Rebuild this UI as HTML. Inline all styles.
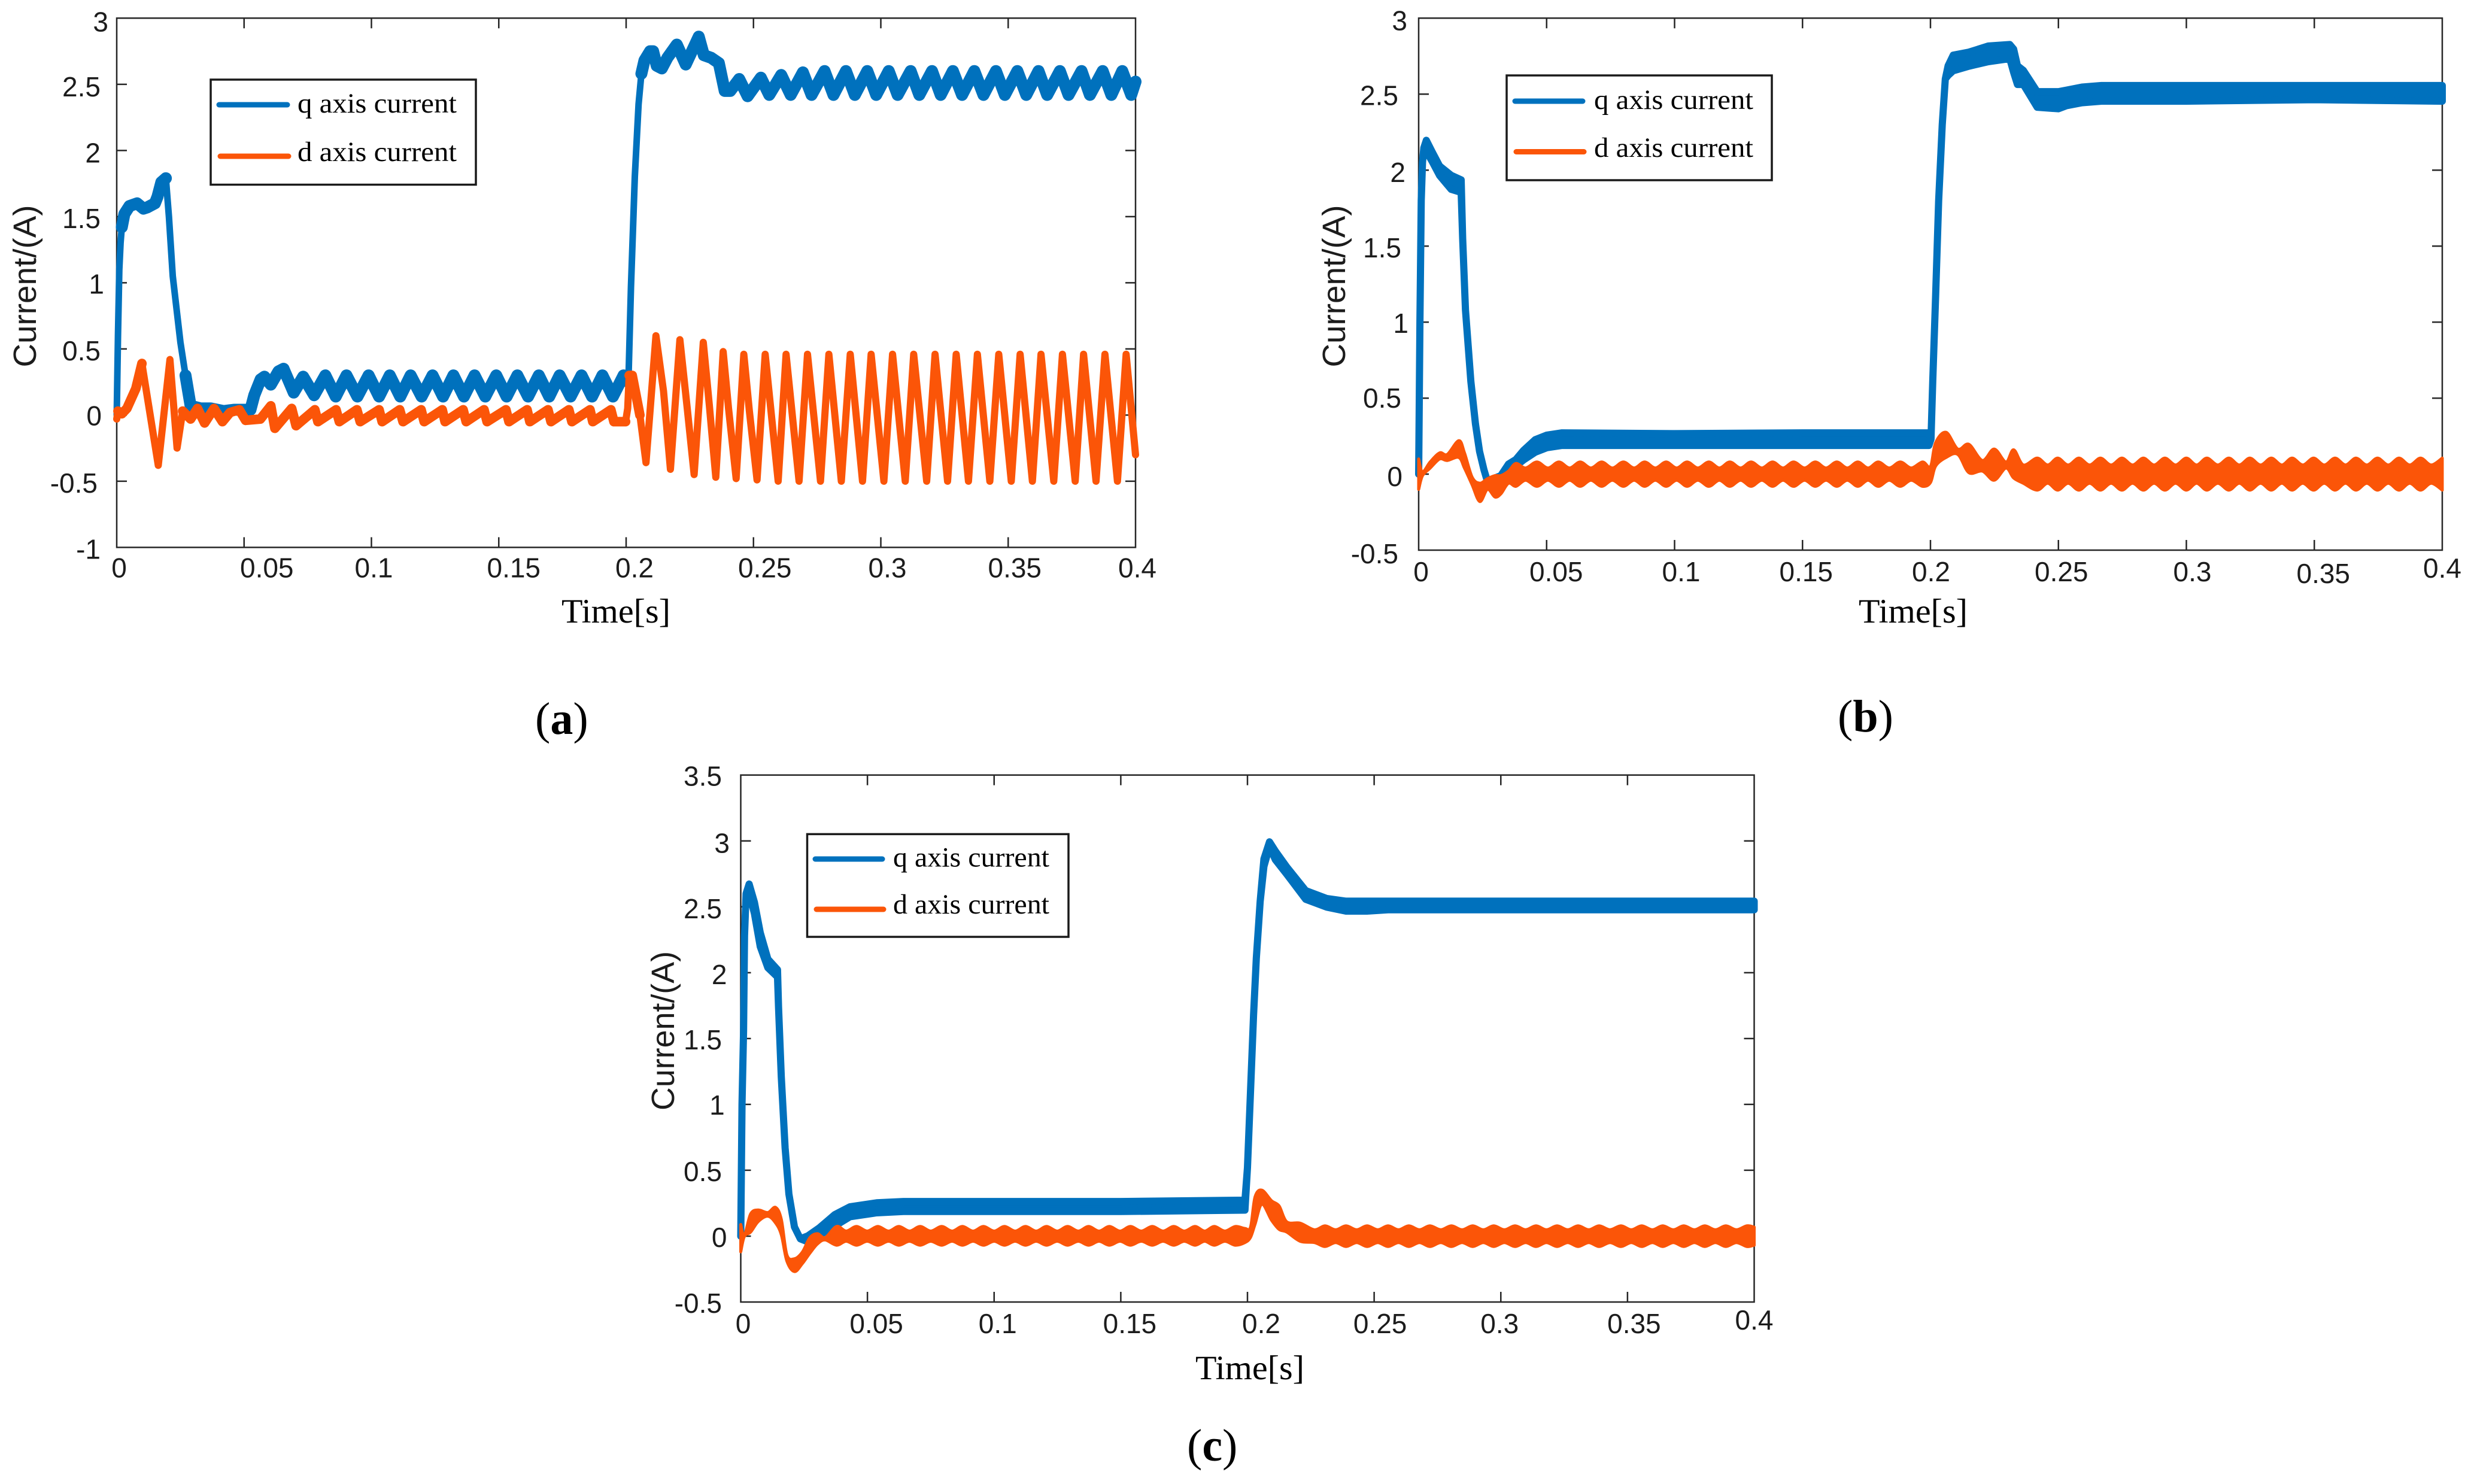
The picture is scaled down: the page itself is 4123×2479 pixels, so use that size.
<!DOCTYPE html>
<html>
<head>
<meta charset="utf-8">
<title>q and d axis current responses</title>
<style>
html,body{margin:0;padding:0;background:#fff;}
svg{display:block;}
text{fill:#1c1c1c;}
.tick{font-family:"Liberation Sans",sans-serif;font-size:46px;}
.ytitle{font-family:"Liberation Sans",sans-serif;font-size:54px;}
.xtitle{font-family:"Liberation Serif",serif;font-size:57px;fill:#000;}
.legend-text{font-family:"Liberation Serif",serif;font-size:47px;fill:#000;}
.caption{font-family:"Liberation Serif",serif;font-size:76px;fill:#000;}
</style>
</head>
<body>
<svg id="figure" xmlns="http://www.w3.org/2000/svg" width="4123" height="2479" viewBox="0 0 4123 2479">
<rect x="0" y="0" width="4123" height="2479" fill="#ffffff"/>
<text class="caption" x="894" y="1226">(<tspan font-weight="bold">a</tspan>)</text>
<text class="caption" x="3070" y="1222">(<tspan font-weight="bold">b</tspan>)</text>
<text class="caption" x="1983" y="2440">(<tspan font-weight="bold">c</tspan>)</text>
</svg>
<script>
/* Shared axis ticks */
const xTicks = [0,0.05,0.1,0.15,0.2,0.25,0.3,0.35,0.4];
const xTickLabels = ['0','0.05','0.1','0.15','0.2','0.25','0.3','0.35','0.4'];
const seriesNames = ['q axis current','d axis current'];

/* Panel (a) */
const aYTicks = [-1,-0.5,0,0.5,1,1.5,2,2.5,3];
const aYTickLabels = ['-1','-0.5','0','0.5','1','1.5','2','2.5','3'];
const aQTime = [0,.0005,.001,.0015,.002,.003,.005,.008,.0105,.012,.015,.016,.0175,.0193,.0205,.022,.0235,.025,.027,.029,.033,.037,.042,.046,.0495,.0525,.054,.0565,.058,.0605,.0635,.0655,
 .0695,.0732,.0775,.0819,.086,.0902,.0945,.0989,.103,.1072,.1113,.1154,.1197,.124,.1281,.1322,.1363,.1405,.1447,.149,.1531,.1573,.1615,.1657,.1698,.1739,.1782,.1825,.1866,.1907,.1948,.199,
 .2009,.2019,.2034,.2049,.206,.2072,.2094,.2106,.212,.214,.2162,.2199,.2234,.2285,.2305,.2334,.2364,.2387,.2409,.2444,.2477,.2529,.2562,.2609,.2646,.2694,.2728,
 .2779,.2814,.2863,.2898,.2947,.2982,.3031,.3066,.3117,.3151,.3201,.3235,.3283,.3319,.3367,.3403,.3452,.3487,.3536,.3571,.3619,.3653,.3703,.3737,.3788,.3821,.3871,.3905,.3948,.3983,.4];
const aQValue = [0,.6,1.1,1.3,1.42,1.52,1.58,1.6,1.56,1.57,1.6,1.65,1.76,1.79,1.5,1.05,.8,.55,.3,.07,.05,.05,.03,.04,.04,.04,.15,.27,.29,.23,.33,.35,
 .17,.29,.15,.30,.14,.30,.14,.30,.14,.30,.14,.30,.14,.30,.14,.30,.14,.30,.14,.30,.14,.30,.14,.30,.14,.30,.14,.30,.14,.30,.14,.30,
 .25,.97,1.8,2.35,2.58,2.68,2.75,2.75,2.64,2.62,2.7,2.8,2.65,2.86,2.72,2.70,2.66,2.45,2.45,2.54,2.41,2.55,2.42,2.57,2.42,2.59,2.42,
 2.6,2.42,2.6,2.42,2.6,2.42,2.6,2.42,2.6,2.42,2.6,2.42,2.6,2.42,2.6,2.42,2.6,2.42,2.6,2.42,2.6,2.42,2.6,2.42,2.6,2.42,2.6,2.42,2.6,2.42,2.52];
const aDTime = [0,.0005,.002,.004,.0075,.0099,.0163,.0209,.0237,.0259,.029,.0317,.0345,.0382,.0415,.0445,.0481,.0506,.0564,.0605,.0621,.0687,.0704,
 .0778,.079,.0861,.0874,.0943,.0956,.103,.1042,.1111,.1124,.1195,.1207,.1278,.1289,.136,.1372,.1442,.1454,.1528,.154,.1611,.1622,.1693,.1705,.1775,.1787,.1858,.1869,.194,.1952,
 .1998,.2006,.2012,.2024,.2054,.2078,.2117,.2147,.2174,.2211,.224,.2267,.2303,.2327,.2352,.2381,.2402,.2432,.2462,.2484,.2514,.2546,
 .2597,.2628,.2679,.2712,.2763,.2796,.2845,.288,.2928,.2962,.3012,.3046,.3096,.3129,.318,.3213,.3262,.3296,.3344,.3379,.3428,.3463,.3512,.3547,.3595,.3629,.3679,.3713,.3763,.3796,.3845,.388,.3929,.3963,.4];
const aDValue = [-.03,.03,.01,.05,.2,.39,-.38,.42,-.25,.03,-.03,.05,-.06,.05,-.05,.02,.04,-.04,-.03,.07,-.1,.05,-.08,
 .04,-.05,.04,-.05,.04,-.05,.04,-.05,.04,-.05,.04,-.05,.04,-.05,.04,-.05,.04,-.05,.04,-.05,.04,-.05,.04,-.05,.04,-.05,.04,-.05,.04,-.05,
 -.05,.05,.30,.30,0,-.36,.6,.18,-.41,.57,.05,-.45,.55,.07,-.47,.48,.05,-.48,.46,.03,-.49,.46,
 -.5,.46,-.5,.46,-.5,.46,-.5,.46,-.5,.46,
 -.5,.46,-.5,.46,-.5,.46,-.5,.46,-.5,.46,
 -.5,.46,-.5,.46,-.5,.46,-.5,.46,-.5,.46,
 -.5,.46,-.5,.46,
 -.3];

/* Panel (b): noisy traces are stored as upper and lower envelopes */
const bYTicks = [-0.5,0,0.5,1,1.5,2,2.5,3];
const bYTickLabels = ['-0.5','0','0.5','1','1.5','2','2.5','3'];
const bQTime = [0,.0005,.001,.0015,.002,.003,.0052,.0082,.0127,.0166,.0172,.0183,.0204,.0222,.0238,.0255,.0269,.0291,.0321,.0351,.038,.041,.0455,.05,.056,.1,.15,.1994,.2002,.2009,.202,.2032,.2046,.2058,.2069,.2089,.215,.2226,.231,.2325,.234,.2363,.2417,.25,.2531,.2592,.2668,.3,.35,.4];
const bQUpper = [0,1,1.8,2.05,2.17,2.22,2.146,2.05,1.99,1.96,1.55,1.08,.61,.33,.15,.03,-.05,-.03,-.01,.09,.12,.18,.25,.28,.295,.29,.295,.295,.23,.61,1.17,1.8,2.3,2.6,2.71,2.78,2.8,2.84,2.85,2.82,2.71,2.68,2.54,2.54,2.55,2.57,2.58,2.58,2.58,2.58];
const bQLower = [0,1,1.8,2.05,2.12,2.1,2.036,1.94,1.85,1.83,1.55,1.08,.61,.33,.15,.03,-.05,-.03,-.01,.01,.03,.07,.12,.15,.165,.165,.165,.165,.23,.61,1.17,1.8,2.3,2.6,2.6,2.63,2.66,2.69,2.71,2.62,2.54,2.54,2.39,2.38,2.4,2.42,2.43,2.43,2.44,2.43];
const bDTime = [0,.0015,.0045,.0082,.0112,.0157,.0179,.0209,.0239,.0269,.0298,.0321,.0351,.038,.0418,
 .0462,.0505,.0548,.059,.0631,.0673,.0715,.0757,.08,.0842,.0883,.0925,.0967,.1008,.1049,.1091,.1134,.1175,.1216,.1258,.1299,.1341,.1383,.1424,.1465,.1508,.155,.1592,.1634,.1675,.1716,.1756,.1796,.1839,.1882,.1925,.1969,
 .2,.202,.2061,.2107,.215,.2203,.2249,.2295,.2325,.2363,.2417,.2458,
 .2497,.2538,.258,.2622,.2664,.2706,.2748,.279,.2832,.2874,.2916,.2958,.3,.304,.308,.3123,.3166,.3207,.3248,.329,.3332,.3373,.3413,.3455,.3497,.3539,.3581,.3622,.3663,.3705,.3747,.3789,.3831,.3873,.3915,.3957,.4];
const bDUpper = [.11,.025,.09,.15,.14,.23,.15,-.01,-.05,-.02,0,0,.03,.08,.05,
 .09,.05,.09,.05,.09,.05,.09,.05,.09,.05,.09,.05,
 .09,.05,.09,.05,.09,.05,.09,.05,.09,.05,.09,.05,
 .09,.05,.09,.05,.09,.05,.09,.05,.09,.05,.09,.05,
 .09,
 .06,.216,.285,.175,.206,.1,.175,.09,.17,.07,.115,.07,
 .115,.07,.115,.07,.115,.07,.115,.07,.115,.07,.115,.07,
 .115,.07,.115,.07,.115,.07,.115,.07,.115,.07,.115,.07,
 .115,.07,.115,.07,.115,.07,.115,.07,.115,.07,.115,.07,
 .115];
const bDLower = [-.11,-.02,.03,.09,.08,.1,.03,-.08,-.19,-.11,-.16,-.14,-.07,-.09,-.05,
 -.09,-.05,-.09,-.05,-.09,-.05,-.09,-.05,-.09,-.05,-.09,-.05,
 -.09,-.05,-.09,-.05,-.09,-.05,-.09,-.05,-.09,-.05,-.09,-.05,
 -.09,-.05,-.09,-.05,-.09,-.05,-.09,-.05,-.09,-.05,-.09,-.05,
 -.09,
 -.065,.043,.1,.12,0,.01,-.05,.03,-.035,-.07,-.115,-.07,
 -.115,-.07,-.115,-.07,-.115,-.07,-.115,-.07,-.115,-.07,-.115,-.07,
 -.115,-.07,-.115,-.07,-.115,-.07,-.115,-.07,-.115,-.07,-.115,-.07,
 -.115,-.07,-.115,-.07,-.115,-.07,-.115,-.07,-.115,-.07,-.115,-.07,
 -.115];

/* Panel (c) */
const cYTicks = [-0.5,0,0.5,1,1.5,2,2.5,3,3.5];
const cYTickLabels = ['-0.5','0','0.5','1','1.5','2','2.5','3','3.5'];
const cQTime = [0,.0005,.0011,.0015,.0021,.0033,.0054,.0077,.0107,.0145,.0149,.016,.0175,.019,.0212,.0235,.0265,.031,.0371,.0431,.0536,.0642,.1,.15,.199,.2,.2012,.2024,.2035,.205,.2065,.2087,.211,.2155,.223,.2313,.2389,.2472,.2555,.2705,.3,.35,.4];
const cQUpper = [0,1,1.56,2.28,2.6,2.7,2.56,2.33,2.13,2.05,1.74,1.21,.67,.32,.07,-.02,.03,.09,.19,.25,.28,.29,.29,.29,.3,.52,1.1,1.68,2.11,2.54,2.89,3.02,2.95,2.83,2.65,2.59,2.57,2.57,2.57,2.57,2.57,2.57,2.57];
const cQLower = [0,1,1.56,2.28,2.6,2.58,2.42,2.17,2.01,1.94,1.74,1.21,.67,.32,.07,-.02,-.07,-.02,.05,.12,.15,.16,.16,.16,.17,.52,1.1,1.68,2.11,2.54,2.78,2.93,2.83,2.72,2.53,2.47,2.44,2.44,2.45,2.45,2.45,2.45,2.45];
const cDTime = [0,.0014,.0039,.0069,.0107,.0137,.016,.0182,.0212,.0243,.0273,.0303,.0333,.0378,.0416,
 .0457,.0499,.0541,.0583,.0624,.0666,.0708,.075,.0793,.0834,.0875,.0917,.0958,.1,.1041,.1083,.1124,.1166,.1207,.1249,.129,.1332,.1373,.1414,.1455,.1497,.1538,.1581,.1624,.1667,.1709,.1751,.1793,.1831,.1869,.1911,.1952,
 .199,.2012,.203,.2057,.2095,.2125,.2155,.2208,.2264,
 .2306,.2348,.2389,.2431,.2472,.2514,.2555,.2596,.2637,.2679,.272,.2763,.2805,.2847,.2889,.2931,.2972,.3014,.3056,.3098,.3139,.318,.3222,.3264,.3305,.3347,.3388,.3431,.3474,.3515,.3556,.3598,.3639,.3681,.3722,.3764,.3805,.3847,.3888,.393,.3971,.4];
const cDUpper = [.1,.015,.18,.21,.19,.23,.14,-.13,-.16,-.11,0,.03,0,.085,.05,
 .085,.05,.085,.05,.085,.05,.085,.05,.085,.05,.085,.05,
 .085,.05,.085,.05,.085,.05,.085,.05,.085,.05,.085,.05,
 .085,.05,.085,.05,.085,.05,.085,.05,.085,.05,.085,.05,
 .085,
 .07,.08,.31,.36,.28,.24,.12,.11,.06,
 .09,.06,.09,.06,.09,.06,.09,.06,.09,.06,.09,.06,.09,.06,
 .09,.06,.09,.06,.09,.06,.09,.06,.09,.06,.09,.06,.09,.06,
 .09,.06,.09,.06,.09,.06,.09,.06,.09,.06,.09,.06,
 .09,.08];
const cDLower = [-.13,-.015,.02,.1,.14,.09,0,-.2,-.28,-.22,-.14,-.07,-.04,-.08,-.05,
 -.08,-.05,-.08,-.05,-.08,-.05,-.08,-.05,-.08,-.05,-.08,-.05,
 -.08,-.05,-.08,-.05,-.08,-.05,-.08,-.05,-.08,-.05,-.08,-.05,
 -.08,-.05,-.08,-.05,-.08,-.05,-.08,-.05,-.08,-.05,-.08,-.05,
 -.08,
 -.06,-.02,.08,.23,.11,.04,.02,-.05,-.06,
 -.09,-.06,-.09,-.06,-.09,-.06,-.09,-.06,-.09,-.06,-.09,-.06,-.09,-.06,
 -.09,-.06,-.09,-.06,-.09,-.06,-.09,-.06,-.09,-.06,-.09,-.06,-.09,-.06,
 -.09,-.06,-.09,-.06,-.09,-.06,-.09,-.06,-.09,-.06,-.09,-.06,
 -.09,-.08];

const NS = 'http://www.w3.org/2000/svg';
const svg = document.getElementById('figure');
const BLUE = '#0071BD', ORANGE = '#FB5508', AXIS = '#262626';

function node(tag, parent, attrs) {
  const el = document.createElementNS(NS, tag);
  for (const k in attrs) el.setAttribute(k, attrs[k]);
  parent.appendChild(el);
  return el;
}

function drawAxes(group, p, xScale, yScale) {
  const box = node('rect', group, {x:p.left, y:p.top, width:p.right-p.left, height:p.bottom-p.top, fill:'none', stroke:AXIS, 'stroke-width':2.5});
  
  
  xTicks.forEach((tv, i) => {
    const x = xScale(tv);
    if (i > 0 && i < xTicks.length - 1) {
      const t1 = node('line', group, {x1:x, x2:x, y1:p.bottom, y2:p.bottom-17, stroke:AXIS, 'stroke-width':2.5});
      
      
      const t2 = node('line', group, {x1:x, x2:x, y1:p.top, y2:p.top+17, stroke:AXIS, 'stroke-width':2.5});
      
      
    }
    const lab = node('text', group, {x:x+p.xLabelShift[i], y:p.bottom+p.xLabelDrop[i], 'text-anchor':'middle', 'class':'tick'});
    
    
    lab.textContent = xTickLabels[i];
  });
  p.yTicks.forEach((tv, i) => {
    const y = yScale(tv);
    if (i > 0 && i < p.yTicks.length - 1) {
      const t1 = node('line', group, {x1:p.left, x2:p.left+17, y1:y, y2:y, stroke:AXIS, 'stroke-width':2.5});
      
      
      const t2 = node('line', group, {x1:p.right, x2:p.right-17, y1:y, y2:y, stroke:AXIS, 'stroke-width':2.5});
      
      
    }
    const lab = node('text', group, {x:p.yLabelRight[i], y:y+p.yLabelDrop[i], 'text-anchor':'end', 'class':'tick'});
    
    
    lab.textContent = p.yLabels[i];
  });
  const yt = node('text', group, {transform:'translate('+p.yTitleX+','+p.yTitleY+') rotate(-90)', 'text-anchor':'middle', 'class':'ytitle', textLength:p.yTitleLen, lengthAdjust:'spacingAndGlyphs'});
  
  
  yt.textContent = 'Current/(A)';
  const xt = node('text', group, {x:p.xTitleX, y:p.xTitleY, 'class':'xtitle', textLength:182, lengthAdjust:'spacingAndGlyphs'});
  
  
  xt.textContent = 'Time[s]';
}

/* Steep transients use the thin pen; settled ripple segments get a thicker pen. */
function drawLine(group, t, v, xScale, yScale, color, width, settledWidth, name) {
  const pts = t.map((tv, i) => [xScale(tv), yScale(v[i])]);
  const el = node('polyline', group, {points:pts.map(p => p[0].toFixed(1)+','+p[1].toFixed(1)).join(' '), fill:'none', stroke:color, 'stroke-width':width, 'stroke-linejoin':'round', 'stroke-linecap':'round'});
  
  
  let run = [];
  const flush = () => {
    if (run.length > 1) {
      const seg = node('polyline', group, {points:run.map(p => p[0].toFixed(1)+','+p[1].toFixed(1)).join(' '), fill:'none', stroke:color, 'stroke-width':settledWidth, 'stroke-linejoin':'round', 'stroke-linecap':'round'});
      
      
    }
    run = [];
  };
  for (let i = 0; i < pts.length - 1; i++) {
    const dx = Math.abs(pts[i+1][0]-pts[i][0]), dy = Math.abs(pts[i+1][1]-pts[i][1]);
    if (dy/dx < 6) {
      if (!run.length) run.push(pts[i]);
      run.push(pts[i+1]);
    } else {
      flush();
    }
  }
  flush();
}

function envelope(t, hi, lo, xScale, yScale, width) {
  const up = [], down = [];
  t.forEach((tv, i) => {
    const x = xScale(tv);
    let a = yScale(hi[i]) + width/2, b = yScale(lo[i]) - width/2;
    if (a > b) { a = b = (yScale(hi[i]) + yScale(lo[i]))/2; }
    up.push([x, a]);
    down.unshift([x, b]);
  });
  return [up, down];
}

function drawBand(group, t, hi, lo, xScale, yScale, color, width, name) {
  const [up, down] = envelope(t, hi, lo, xScale, yScale, width);
  const el = node('polygon', group, {points:up.concat(down).map(p => p[0].toFixed(1)+','+p[1].toFixed(1)).join(' '), fill:color, stroke:color, 'stroke-width':width, 'stroke-linejoin':'round'});
  
  
}

function smoothSegments(pts) {
  let d = '';
  for (let i = 0; i < pts.length - 1; i++) {
    const p0 = pts[Math.max(i-1,0)], p1 = pts[i], p2 = pts[i+1], p3 = pts[Math.min(i+2,pts.length-1)];
    const c1x = p1[0]+(p2[0]-p0[0])/6, c1y = p1[1]+(p2[1]-p0[1])/6;
    const c2x = p2[0]-(p3[0]-p1[0])/6, c2y = p2[1]-(p3[1]-p1[1])/6;
    d += 'C'+c1x.toFixed(1)+' '+c1y.toFixed(1)+' '+c2x.toFixed(1)+' '+c2y.toFixed(1)+' '+p2[0].toFixed(1)+' '+p2[1].toFixed(1);
  }
  return d;
}

function drawSmoothBand(group, t, hi, lo, xScale, yScale, color, width, name) {
  const [up, down] = envelope(t, hi, lo, xScale, yScale, width);
  const d = 'M'+up[0][0].toFixed(1)+' '+up[0][1].toFixed(1)+smoothSegments(up)+'L'+down[0][0].toFixed(1)+' '+down[0][1].toFixed(1)+smoothSegments(down)+'Z';
  const el = node('path', group, {d:d, fill:color, stroke:color, 'stroke-width':width, 'stroke-linejoin':'round'});
  
  
}

function drawLegend(group, l) {
  const box = node('rect', group, {x:l.x, y:l.y, width:l.w, height:l.h, fill:'#fff', stroke:'#1a1a1a', 'stroke-width':3.5});
  
  
  const h1 = node('line', group, {x1:l.hx, x2:l.hx+l.hw, y1:l.y1, y2:l.y1, stroke:BLUE, 'stroke-width':9, 'stroke-linecap':'round'});
  
  
  const t1 = node('text', group, {x:l.tx, y:l.b1, 'class':'legend-text', textLength:l.tw, lengthAdjust:'spacingAndGlyphs'});
  
  
  t1.textContent = seriesNames[0];
  const h2 = node('line', group, {x1:l.hx+2, x2:l.hx+l.hw+2, y1:l.y2, y2:l.y2, stroke:ORANGE, 'stroke-width':9, 'stroke-linecap':'round'});
  
  
  const t2 = node('text', group, {x:l.tx, y:l.b2, 'class':'legend-text', textLength:l.tw, lengthAdjust:'spacingAndGlyphs'});
  
  
  t2.textContent = seriesNames[1];
}

const panelA = {left:195, right:1897, top:30.3, bottom:914.4, yMin:-1, yMax:3, yTicks:aYTicks, yLabels:aYTickLabels,
  xLabelShift:[4,38,4,25,14,19,11,11,3], xLabelDrop:[50,50,50,50,50,50,50,50,50],
  yLabelRight:[168,163,170,168,174,168,168,168,181], yLabelDrop:[19,19,17,19,18,19,20,20,22],
  yTitleX:60, yTitleY:478, yTitleLen:271, xTitleX:938, xTitleY:1040};
const panelB = {left:2370, right:4080, top:30.3, bottom:919, yMin:-0.5, yMax:3, yTicks:bYTicks, yLabels:bYTickLabels,
  xLabelShift:[4,16,11,6,1,5,10,15,0], xLabelDrop:[52,52,52,52,52,52,52,55,46],
  yLabelRight:[2336,2343,2341,2353,2341,2348,2336,2351], yLabelDrop:[22,20,16,18,19,20,18,20],
  yTitleX:2247, yTitleY:478, yTitleLen:271, xTitleX:3105, xTitleY:1040};
const panelC = {left:1237.5, right:2930.5, top:1294.7, bottom:2175, yMin:-0.5, yMax:3.5, yTicks:cYTicks, yLabels:cYTickLabels,
  xLabelShift:[4,15,6,15,23,10,-2,11,0], xLabelDrop:[52,52,52,52,52,52,52,52,46],
  yLabelRight:[1206,1214.5,1206,1210.7,1206,1214.5,1206,1219,1206], yLabelDrop:[18,18,18,17,18,19,19,20,18],
  yTitleX:1126, yTitleY:1722, yTitleLen:266, xTitleX:1997, xTitleY:2304};

function scales(p) {
  return [
    t => p.left + t/0.4*(p.right-p.left),
    v => p.bottom - (v-p.yMin)/(p.yMax-p.yMin)*(p.bottom-p.top)
  ];
}

/* Panel a */
const groupA = node('g', svg, {});


const [xA, yA] = scales(panelA);
drawAxes(groupA, panelA, xA, yA);
drawLine(groupA, aQTime, aQValue, xA, yA, BLUE, 11, 20, 'q-axis-current-line');
drawLine(groupA, aDTime, aDValue, xA, yA, ORANGE, 12, 16, 'd-axis-current-line');
drawLegend(groupA, {x:352, y:133, w:443, h:175.5, hx:366, hw:114, y1:175, y2:261, tx:497, tw:266, b1:188, b2:269});

/* Panel b */
const groupB = node('g', svg, {});


const [xB, yB] = scales(panelB);
drawAxes(groupB, panelB, xB, yB);
drawBand(groupB, bQTime, bQUpper, bQLower, xB, yB, BLUE, 12, 'q-axis-current-band');
drawSmoothBand(groupB, bDTime, bDUpper, bDLower, xB, yB, ORANGE, 5, 'd-axis-current-band');
drawLegend(groupB, {x:2517, y:126, w:443, h:175, hx:2531, hw:113, y1:169, y2:253.5, tx:2663, tw:266, b1:182, b2:262});

/* Panel c */
const groupC = node('g', svg, {});


const [xC, yC] = scales(panelC);
drawAxes(groupC, panelC, xC, yC);
drawBand(groupC, cQTime, cQUpper, cQLower, xC, yC, BLUE, 12, 'q-axis-current-band');
drawSmoothBand(groupC, cDTime, cDUpper, cDLower, xC, yC, ORANGE, 5, 'd-axis-current-band');
drawLegend(groupC, {x:1348.5, y:1393.4, w:436.5, h:171.6, hx:1362, hw:112, y1:1435, y2:1519, tx:1492, tw:261, b1:1447.5, b2:1526});
</script>
</body>
</html>
